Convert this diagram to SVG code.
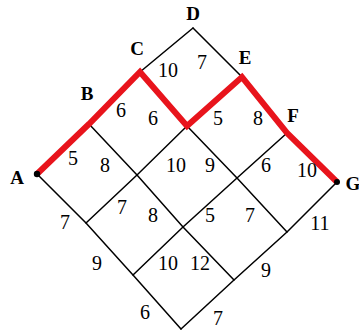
<svg xmlns="http://www.w3.org/2000/svg" width="359" height="333" viewBox="0 0 359 333">
<style>
.g{stroke:#000;stroke-width:1.5;fill:none;stroke-linecap:round}
.r{stroke:#e8141c;stroke-width:6;fill:none;stroke-linejoin:miter;stroke-linecap:butt}
.n{font-family:"Liberation Serif","Times New Roman",serif;font-size:20px;text-anchor:middle;fill:#000}
.l{font-family:"Liberation Serif","Times New Roman",serif;font-size:19px;font-weight:bold;text-anchor:middle;fill:#000}
</style>
<rect width="359" height="333" fill="#fff"/>
<g id="connectors">
<g id="grid">
<polyline class="g" points="37,174 89,124 140,72 193,28"/>
<polyline class="g" points="86,223 137,175 187,126 242,77"/>
<polyline class="g" points="133,275 183,227 237,178 287,133"/>
<polyline class="g" points="181,329 234,280 287,232 337,182"/>
<polyline class="g" points="37,174 86,223 133,275 181,329"/>
<polyline class="g" points="89,124 137,175 183,227 234,280"/>
<polyline class="g" points="140,72 187,126 237,178 287,232"/>
<polyline class="g" points="193,28 242,77 287,133 337,182"/>
</g>
<polyline id="path" class="r" points="37,174 89,124 140,72 187,126 242,77 287,133 337,182"/>
</g>
<g id="node-A"><circle cx="37" cy="174" r="3.2" fill="#000"/><text class="l" x="17" y="184">A</text></g>
<g id="node-B"><text class="l" x="87" y="100">B</text></g>
<g id="node-C"><text class="l" x="137" y="55">C</text></g>
<g id="node-D"><text class="l" x="193" y="20">D</text></g>
<g id="node-E"><text class="l" x="245" y="64">E</text></g>
<g id="node-F"><text class="l" x="293" y="122">F</text></g>
<g id="node-G"><circle cx="337" cy="182" r="3" fill="#000"/><text class="l" x="353" y="190">G</text></g>
<g id="weights">
<text class="n" x="168" y="77">10</text>
<text class="n" x="202" y="69">7</text>
<text class="n" x="121" y="117">6</text>
<text class="n" x="153" y="125">6</text>
<text class="n" x="218" y="125">5</text>
<text class="n" x="258" y="125">8</text>
<text class="n" x="73" y="165">5</text>
<text class="n" x="105" y="172">8</text>
<text class="n" x="176" y="172">10</text>
<text class="n" x="210" y="172">9</text>
<text class="n" x="266" y="172">6</text>
<text class="n" x="307" y="177">10</text>
<text class="n" x="122" y="214">7</text>
<text class="n" x="153" y="222">8</text>
<text class="n" x="210" y="222">5</text>
<text class="n" x="250" y="222">7</text>
<text class="n" x="65" y="229">7</text>
<text class="n" x="320" y="230">11</text>
<text class="n" x="97" y="270">9</text>
<text class="n" x="168" y="270">10</text>
<text class="n" x="200" y="270">12</text>
<text class="n" x="266" y="277">9</text>
<text class="n" x="145" y="319">6</text>
<text class="n" x="218" y="325">7</text>
</g>
</svg>
